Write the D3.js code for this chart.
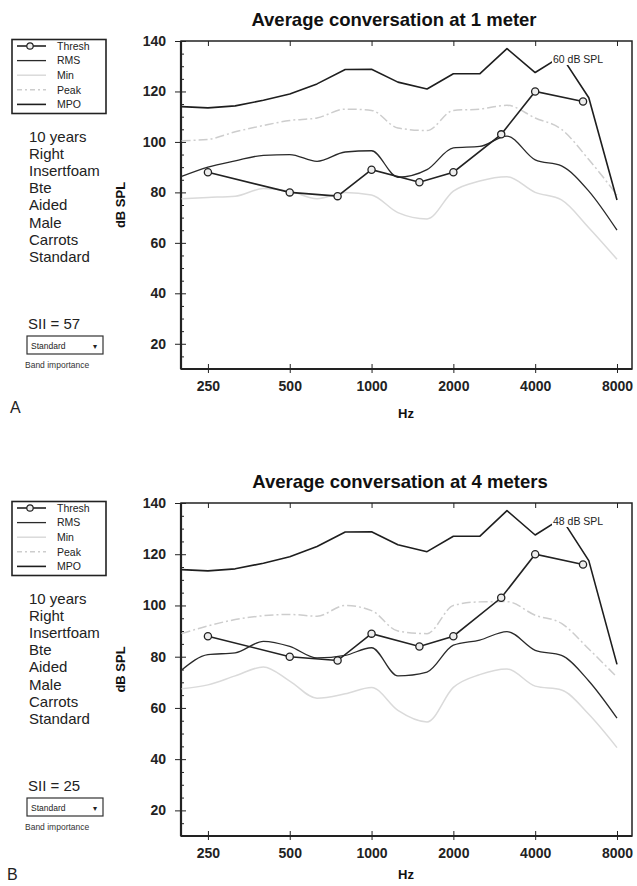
<!DOCTYPE html>
<html>
<head>
<meta charset="utf-8">
<script src="https://cdn.jsdelivr.net/npm/d3@7"></script>
<style>
  body { margin: 0; background: #fff; }
  svg { display: block; font-family: "Liberation Sans", Arial, sans-serif; }
  .axis path, .axis line { stroke: #222; }
  .axis text { fill: #222; font-weight: bold; font-size: 14px; }
</style>
</head>
<body>
<svg id="chart" width="637" height="886"></svg>
<script>
// 1/3 octave frequencies used by the speech curves
const freqs = [200, 250, 315, 400, 500, 630, 800, 1000, 1250, 1600, 2000, 2500, 3150, 4000, 5000, 6300, 8000];

const threshFreqs = [250, 500, 750, 1000, 1500, 2000, 3000, 4000, 6000];
const threshDb = [88, 80, 78.5, 89, 84, 88, 103, 120, 116];

const mpoDb = [114, 113.5, 114.3, 116.5, 119, 123, 128.7, 128.8, 123.7, 121, 127, 127, 137, 127.5, 134, 117.5, 77];

// average conversation at 1 meter
const rms1m = [86.3, 90, 92.5, 94.7, 95, 92.3, 96, 96.5, 86, 89, 97.6, 98.2, 102.3, 92.9, 90.5, 80.5, 65];
const min1m = [77.5, 78, 78.5, 81.5, 80.5, 77.5, 80, 79, 72, 69.5, 80.5, 84.5, 86.2, 80, 77, 66, 53.5];
const peak1m = [100.5, 101, 104, 106.5, 108.5, 109.5, 113, 112.5, 105.5, 104.5, 112.5, 113, 114.5, 109.5, 105, 93, 79];

// average conversation at 4 meters
const rms4m = [74.8, 80.8, 81.5, 86, 84, 79.5, 80.5, 83.5, 72.5, 74, 84.5, 86.5, 89.8, 82.5, 80.5, 70.5, 56];
const min4m = [67.5, 69, 72.5, 76, 70.5, 63.8, 65.5, 68, 59, 54.5, 68, 73, 75.2, 68.5, 67, 57.5, 44.5];
const peak4m = [89, 92, 94.5, 96, 96.5, 95.8, 100, 98, 90, 89, 100, 101.4, 101.5, 96.2, 93, 83, 72];

const titles = ['Average conversation at 1 meter', 'Average conversation at 4 meters'];
const levelLabels = ['60 dB SPL', '48 dB SPL'];
const siiValues = [57, 25];
const panelLetters = ['A', 'B'];
const infoLines = ['10 years', 'Right', 'Insertfoam', 'Bte', 'Aided', 'Male', 'Carrots', 'Standard'];
const legendNames = ['Thresh', 'RMS', 'Min', 'Peak', 'MPO'];

const xTicks = [250, 500, 1000, 2000, 4000, 8000];
const yTicks = [20, 40, 60, 80, 100, 120, 140];
const yMinor = d3.range(10, 141, 5).filter((v) => v % 20 !== 0);

const styles = {
  Thresh: {stroke: '#222', width: 1.6, dash: null},
  RMS: {stroke: '#2a2a2a', width: 1.3, dash: null},
  Min: {stroke: '#dadada', width: 1.5, dash: null},
  Peak: {stroke: '#cdcdcd', width: 1.5, dash: '9,3,2,3'},
  MPO: {stroke: '#1e1e1e', width: 1.6, dash: null},
};

const panels = [
  {top: 41, bottom: 369, rms: rms1m, min: min1m, peak: peak1m, hzY: 418, letterY: 413},
  {top: 503, bottom: 836, rms: rms4m, min: min4m, peak: peak4m, hzY: 879, letterY: 880},
];

const svg = d3.select('#chart');
const left = 181;
const right = 632;

const x = d3.scaleLog().domain([199, 9085]).range([left, right]);

function drawPanel(p, idx) {
  const g = svg.append('g').attr('class', 'panel');
  const y = d3.scaleLinear().domain([10, 140]).range([p.bottom, p.top]);

  // title
  g.append('text')
    .attr('x', 394 + idx * 6)
    .attr('y', p.top - 15)
    .attr('text-anchor', 'middle')
    .attr('font-size', 18.5)
    .attr('font-weight', 'bold')
    .attr('fill', '#111')
    .text(titles[idx]);

  // axes
  g.append('g')
    .attr('class', 'axis')
    .attr('transform', `translate(${left},0)`)
    .call(d3.axisLeft(y).tickValues(yTicks).tickSize(6).tickPadding(9))
    .call((a) => a.select('.domain').remove());

  g.append('g')
    .attr('class', 'axis')
    .attr('transform', `translate(${left},0)`)
    .call(d3.axisRight(y).tickValues(yTicks).tickSize(5).tickFormat(''))
    .call((a) => a.select('.domain').remove());

  g.append('g')
    .attr('class', 'axis')
    .attr('transform', `translate(${left},0)`)
    .call(d3.axisRight(y).tickValues(yMinor).tickSize(3).tickFormat(''))
    .call((a) => a.select('.domain').remove());

  g.append('g')
    .attr('class', 'axis')
    .attr('transform', `translate(0,${p.bottom})`)
    .call(d3.axisBottom(x).tickValues(xTicks).tickSize(4).tickPadding(8).tickFormat(d3.format('d')))
    .call((a) => a.select('.domain').remove());

  g.append('g')
    .attr('class', 'axis')
    .attr('transform', `translate(0,${p.bottom})`)
    .call(d3.axisTop(x).tickValues(xTicks).tickSize(5).tickFormat(''))
    .call((a) => a.select('.domain').remove());

  g.append('g')
    .attr('class', 'axis')
    .attr('transform', `translate(0,${p.top})`)
    .call(d3.axisBottom(x).tickValues(xTicks).tickSize(5).tickFormat(''))
    .call((a) => a.select('.domain').remove());

  // frame
  g.append('rect')
    .attr('x', left)
    .attr('y', p.top)
    .attr('width', right - left)
    .attr('height', p.bottom - p.top)
    .attr('fill', 'none')
    .attr('stroke', '#222')
    .attr('stroke-width', 1.5);
  g.append('line')
    .attr('x1', left).attr('x2', right)
    .attr('y1', p.bottom).attr('y2', p.bottom)
    .attr('stroke', '#222').attr('stroke-width', 2.2);
  g.append('line')
    .attr('x1', left).attr('x2', left)
    .attr('y1', p.top).attr('y2', p.bottom)
    .attr('stroke', '#222').attr('stroke-width', 2.2);

  // axis titles
  g.append('text')
    .attr('transform', `translate(125,${(p.top + p.bottom) / 2}) rotate(-90)`)
    .attr('text-anchor', 'middle')
    .attr('font-size', 13)
    .attr('font-weight', 'bold')
    .attr('fill', '#111')
    .text('dB SPL');

  g.append('text')
    .attr('x', 406)
    .attr('y', p.hzY)
    .attr('text-anchor', 'middle')
    .attr('font-size', 13)
    .attr('font-weight', 'bold')
    .attr('fill', '#111')
    .text('Hz');

  // curves
  const smooth = d3.line()
    .x((d) => x(d[0]))
    .y((d) => y(d[1]))
    .curve(d3.curveMonotoneX);
  const straight = d3.line()
    .x((d) => x(d[0]))
    .y((d) => y(d[1]));

  const series = [
    {name: 'Min', values: p.min, line: smooth},
    {name: 'Peak', values: p.peak, line: smooth},
    {name: 'RMS', values: p.rms, line: smooth},
    {name: 'MPO', values: mpoDb, line: straight},
  ];

  series.forEach((s) => {
    const st = styles[s.name];
    g.append('path')
      .datum(d3.zip(freqs, s.values))
      .attr('fill', 'none')
      .attr('stroke', st.stroke)
      .attr('stroke-width', st.width)
      .attr('stroke-dasharray', st.dash)
      .attr('stroke-linejoin', 'round')
      .attr('d', s.line);
  });

  const thresh = d3.zip(threshFreqs, threshDb);
  g.append('path')
    .datum(thresh)
    .attr('fill', 'none')
    .attr('stroke', styles.Thresh.stroke)
    .attr('stroke-width', styles.Thresh.width)
    .attr('d', straight);

  g.selectAll('.thresh-pt')
    .data(thresh)
    .enter()
    .append('circle')
      .attr('class', 'thresh-pt')
      .attr('cx', (d) => x(d[0]))
      .attr('cy', (d) => y(d[1]))
      .attr('r', 3.6)
      .attr('fill', '#eee')
      .attr('stroke', '#222')
      .attr('stroke-width', 1.3);

  // level label sits over the MPO line
  const lbl = g.append('g').attr('transform', `translate(553,${p.top + 22})`);
  lbl.append('rect')
    .attr('x', -1).attr('y', -10)
    .attr('width', 56).attr('height', 12)
    .attr('fill', '#fff');
  lbl.append('text')
    .attr('font-size', 10.5)
    .attr('fill', '#222')
    .text(levelLabels[idx]);

  // legend
  const leg = g.append('g').attr('transform', `translate(12,${p.top - 1.5})`);
  leg.append('rect')
    .attr('width', 94)
    .attr('height', 74)
    .attr('fill', '#fff')
    .attr('stroke', '#222')
    .attr('stroke-width', 1.6);

  legendNames.forEach((name, i) => {
    const ry = 6.5 + i * 14.6;
    const st = styles[name];
    leg.append('line')
      .attr('x1', 5).attr('x2', 34)
      .attr('y1', ry).attr('y2', ry)
      .attr('stroke', st.stroke)
      .attr('stroke-width', st.width)
      .attr('stroke-dasharray', st.dash ? '5,3,2,3' : null);
    if (name === 'Thresh') {
      leg.append('circle')
        .attr('cx', 18).attr('cy', ry).attr('r', 3.2)
        .attr('fill', '#eee').attr('stroke', '#222').attr('stroke-width', 1.2);
    }
    leg.append('text')
      .attr('x', 45)
      .attr('y', ry + 3.8)
      .attr('font-size', 10.5)
      .attr('fill', '#222')
      .text(name);
  });

  // hearing aid fitting details
  infoLines.forEach((t, i) => {
    g.append('text')
      .attr('x', 29)
      .attr('y', p.top + 101 + i * 17.1)
      .attr('font-size', 15)
      .attr('fill', '#222')
      .text(t);
  });

  g.append('text')
    .attr('x', 28)
    .attr('y', p.top + 288)
    .attr('font-size', 15)
    .attr('fill', '#222')
    .text(`SII = ${siiValues[idx]}`);

  const drop = g.append('g').attr('transform', `translate(27,${p.top + 295})`);
  drop.append('rect')
    .attr('width', 76).attr('height', 18)
    .attr('fill', '#fff')
    .attr('stroke', '#333')
    .attr('stroke-width', 1.2);
  drop.append('text')
    .attr('x', 4).attr('y', 12.5)
    .attr('font-size', 8.5)
    .attr('fill', '#222')
    .text('Standard');
  drop.append('text')
    .attr('x', 66).attr('y', 12.5)
    .attr('font-size', 8)
    .attr('fill', '#222')
    .text('\u25BE');

  g.append('text')
    .attr('x', 25)
    .attr('y', p.top + 327)
    .attr('font-size', 8.5)
    .attr('fill', '#333')
    .text('Band importance');

  svg.append('text')
    .attr('x', idx === 0 ? 10 : 7)
    .attr('y', p.letterY)
    .attr('font-size', 16)
    .attr('fill', '#222')
    .text(panelLetters[idx]);
}

panels.forEach(drawPanel);
</script>
</body>
</html>
